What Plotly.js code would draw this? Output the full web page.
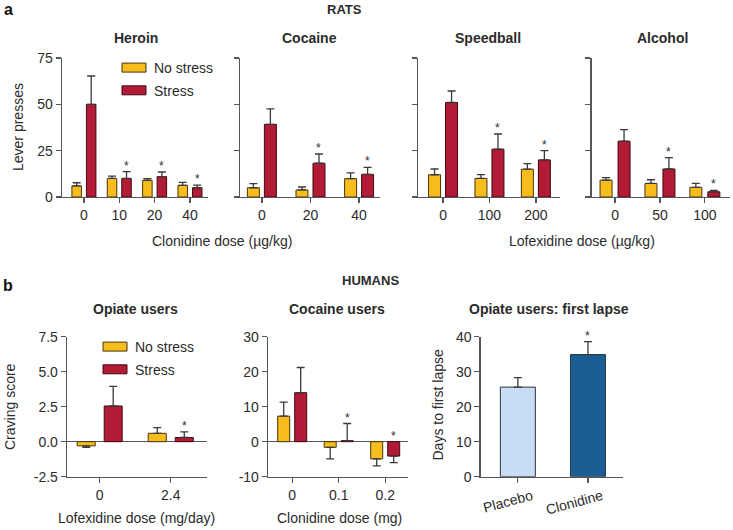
<!DOCTYPE html>
<html><head><meta charset="utf-8">
<script src="https://cdn.plot.ly/plotly-3.0.1.min.js"></script>
<style>html,body{margin:0;padding:0;background:#fff}#chart{width:733px;height:530px}</style>
</head><body><div id="chart"></div>
<script>
// ================= DATA =================
// a) RATS — lever presses
const heroinDose = ['0', '10', '20', '40'];
const heroinNoStress = [6, 10, 9, 6.3];
const heroinNoStressErr = [1.7, 1.3, 0.9, 1.6];
const heroinStress = [50, 10, 11, 5];
const heroinStressErr = [15.3, 3.7, 2.5, 1.4];
const heroinSig = [0, 1, 1, 1];

const cocaineDose = ['0', '20', '40'];
const cocaineNoStress = [5, 3.8, 9.9];
const cocaineNoStressErr = [2.2, 1.6, 3.1];
const cocaineStress = [39.2, 18.2, 12.2];
const cocaineStressErr = [8.3, 5, 3.8];
const cocaineSig = [0, 1, 1];

const speedballDose = ['0', '100', '200'];
const speedballNoStress = [12, 10, 15];
const speedballNoStressErr = [3.1, 2.1, 3];
const speedballStress = [51, 25.8, 20];
const speedballStressErr = [6.2, 8.2, 5];
const speedballSig = [0, 1, 1];

const alcoholDose = ['0', '50', '100'];
const alcoholNoStress = [9.1, 7.3, 5.2];
const alcoholNoStressErr = [1.4, 2, 2.1];
const alcoholStress = [30.1, 15.1, 2.8];
const alcoholStressErr = [6.3, 6.1, 0.8];
const alcoholSig = [0, 1, 1];

// b) HUMANS
const opiateDose = ['0', '2.4'];
const opiateNoStress = [-0.3, 0.6];
const opiateNoStressErr = [0.1, 0.4];
const opiateStress = [2.55, 0.3];
const opiateStressErr = [1.4, 0.4];
const opiateSig = [0, 1];
const opiateTickVals = [-2.5, 0, 2.5, 5, 7.5];
const opiateTickText = ['-2.5', '0.0', '2.5', '5.0', '7.5'];

const cocUsersDose = ['0', '0.1', '0.2'];
const cocUsersNoStress = [7.3, -1.6, -4.9];
const cocUsersNoStressErr = [4, 3.3, 2];
const cocUsersStress = [14, 0.3, -4.1];
const cocUsersStressErr = [7.2, 4.9, 1.9];
const cocUsersSig = [0, 1, 1];
const cocUsersTickVals = [-10, 0, 10, 20, 30];
const cocUsersTickText = ['-10', '0', '10', '20', '30'];

const lapseGroups = ['Placebo', 'Clonidine'];
const lapseDays = [25.6, 34.9];
const lapseErr = [2.7, 3.7];
const lapseSig = [0, 1];

const seriesNames = ['No stress', 'Stress'];

// ================= STYLE / LAYOUT =================
const W = 733, H = 530;
const fx = p => p / W;
const fy = p => 1 - p / H;
const FONT = 'Arial, "Liberation Sans", Helvetica, sans-serif';
const AX = '#555555';
const TXT = '#2b2b2b';
const YELLOW = '#F6BD1C';
const RED = '#B11B36';
const LIGHTBLUE = '#C6DDF3';
const DARKBLUE = '#1B5D95';

const panels = [
  {id: '', cats: heroinDose, ns: heroinNoStress, nsE: heroinNoStressErr, s: heroinStress, sE: heroinStressErr, sig: heroinSig,
   xpx: [62, 208], ypx: [58, 197], xr: [-0.62, 3.51], yr: [0, 75], bw: 9.5, gap: 5, legend: 'legend'},
  {id: '2', cats: cocaineDose, ns: cocaineNoStress, nsE: cocaineNoStressErr, s: cocaineStress, sE: cocaineStressErr, sig: cocaineSig,
   xpx: [240, 380], ypx: [58, 197], xr: [-0.45, 2.43], yr: [0, 75], bw: 12, gap: 5},
  {id: '3', cats: speedballDose, ns: speedballNoStress, nsE: speedballNoStressErr, s: speedballStress, sE: speedballStressErr, sig: speedballSig,
   xpx: [418, 560], ypx: [58, 197], xr: [-0.54, 2.52], yr: [0, 75], bw: 12, gap: 5},
  {id: '4', cats: alcoholDose, ns: alcoholNoStress, nsE: alcoholNoStressErr, s: alcoholStress, sE: alcoholStressErr, sig: alcoholSig,
   xpx: [591.7, 730], ypx: [58, 197], xr: [-0.52, 2.56], yr: [0, 75], bw: 12, gap: 6},
  {id: '5', cats: opiateDose, ns: opiateNoStress, nsE: opiateNoStressErr, s: opiateStress, sE: opiateStressErr, sig: opiateSig,
   xpx: [67, 207], ypx: [336.7, 476.7], xr: [-0.46, 1.51], yr: [-2.5, 7.5], bw: 18, gap: 9, legend: 'legend2',
   tv: opiateTickVals, tt: opiateTickText},
  {id: '6', cats: cocUsersDose, ns: cocUsersNoStress, nsE: cocUsersNoStressErr, s: cocUsersStress, sE: cocUsersStressErr, sig: cocUsersSig,
   xpx: [268, 408], ypx: [336.7, 476.7], xr: [-0.52, 2.49], yr: [-10, 30], bw: 12, gap: 5,
   tv: cocUsersTickVals, tt: cocUsersTickText}
];

const errUp = (v, e) => v.map((d, i) => d >= 0 ? e[i] : 0);
const errDown = (v, e) => v.map((d, i) => d < 0 ? e[i] : 0);

const traces = [];
const annotations = [];
const layout = {
  width: W, height: H,
  margin: {l: 0, r: 0, t: 0, b: 0, pad: 0},
  paper_bgcolor: '#ffffff', plot_bgcolor: 'rgba(0,0,0,0)',
  font: {family: FONT, color: TXT, size: 14},
  barmode: 'overlay',
  showlegend: true,
  hovermode: false
};

function errStyle(v, e) {
  return {type: 'data', symmetric: false, array: errUp(v, e), arrayminus: errDown(v, e),
          color: '#3a3a3a', thickness: 1.3, width: 4};
}

panels.forEach(p => {
  const xa = 'x' + p.id, ya = 'y' + p.id;
  const S = (p.xpx[1] - p.xpx[0]) / (p.xr[1] - p.xr[0]); // px per category
  const w = p.bw / S;
  const g = p.gap / S;
  const oNs = -(w + g / 2);
  const oS = g / 2;
  const isB = p.id === '5' || p.id === '6';
  traces.push({
    type: 'bar', name: seriesNames[0], x: p.cats, y: p.ns, xaxis: xa, yaxis: ya,
    offset: oNs, width: w,
    marker: {color: YELLOW, line: {color: '#4a3410', width: 1}},
    error_y: errStyle(p.ns, p.nsE),
    showlegend: !!p.legend, legend: p.legend || 'legend', legendgroup: 'ns' + p.id
  });
  traces.push({
    type: 'bar', name: seriesNames[1], x: p.cats, y: p.s, xaxis: xa, yaxis: ya,
    offset: oS, width: w,
    marker: {color: RED, line: {color: '#3f0a14', width: 1}},
    error_y: errStyle(p.s, p.sE),
    showlegend: !!p.legend, legend: p.legend || 'legend', legendgroup: 's' + p.id
  });
  p.sig.forEach((sg, i) => {
    if (!sg) return;
    const top = Math.max(p.s[i] + errUp(p.s, p.sE)[i], 0);
    annotations.push({xref: xa, yref: ya, x: i + oS + w / 2, y: top, text: '*', showarrow: false,
      yanchor: 'bottom', yshift: -3, font: {size: 12, color: TXT}});
  });
  layout['xaxis' + p.id] = {
    domain: [fx(p.xpx[0]), fx(p.xpx[1])], range: p.xr, type: 'category',
    categoryorder: 'array', categoryarray: p.cats, anchor: ya,
    showline: true, linecolor: AX, linewidth: 1.3, ticks: 'outside', ticklen: 5, tickcolor: AX, tickwidth: 1.3,
    tickfont: {size: 14, color: TXT}, showgrid: false, zeroline: false, fixedrange: true
  };
  const yax = {
    domain: [fy(p.ypx[1]), fy(p.ypx[0])], range: p.yr, anchor: xa,
    showline: true, linecolor: AX, linewidth: 1.3, ticks: 'outside', ticklen: 5, tickcolor: AX, tickwidth: 1.3,
    tickfont: {size: 14, color: TXT}, showgrid: false, fixedrange: true,
    zeroline: isB, zerolinecolor: AX, zerolinewidth: 1.3,
    showticklabels: (p.id === '' || isB)
  };
  if (p.tv) { yax.tickmode = 'array'; yax.tickvals = p.tv; yax.ticktext = p.tt; }
  else { yax.dtick = 25; yax.tick0 = 0; }
  layout['yaxis' + p.id] = yax;
});

// first lapse panel
(function () {
  const xpx = [480.7, 623], ypx = [336.7, 476.7], xr = [-0.53, 1.5];
  const S = (xpx[1] - xpx[0]) / (xr[1] - xr[0]);
  const w = 35 / S;
  traces.push({
    type: 'bar', name: 'Days to first lapse', x: lapseGroups, y: lapseDays, xaxis: 'x7', yaxis: 'y7',
    offset: -w / 2, width: w,
    marker: {color: [LIGHTBLUE, DARKBLUE], line: {color: '#2a3540', width: 1}},
    error_y: errStyle(lapseDays, lapseErr), showlegend: false
  });
  lapseSig.forEach((sg, i) => {
    if (!sg) return;
    annotations.push({xref: 'x7', yref: 'y7', x: i, y: lapseDays[i] + lapseErr[i], text: '*', showarrow: false,
      yanchor: 'bottom', yshift: -3, font: {size: 12, color: TXT}});
  });
  layout.xaxis7 = {
    domain: [fx(xpx[0]), fx(xpx[1])], range: xr, type: 'category', categoryorder: 'array', categoryarray: lapseGroups,
    anchor: 'y7', showline: true, linecolor: AX, linewidth: 1.3, ticks: 'outside', ticklen: 5, tickcolor: AX, tickwidth: 1.3,
    tickfont: {size: 14, color: TXT}, tickangle: -15, ticklabelshift: 14, showgrid: false, zeroline: false, fixedrange: true
  };
  layout.yaxis7 = {
    domain: [fy(ypx[1]), fy(ypx[0])], range: [0, 40], dtick: 10, anchor: 'x7',
    showline: true, linecolor: AX, linewidth: 1.3, ticks: 'outside', ticklen: 5, tickcolor: AX, tickwidth: 1.3,
    tickfont: {size: 14, color: TXT}, showgrid: false, zeroline: false, fixedrange: true
  };
})();

// legends
layout.legend = {x: fx(114), y: fy(52), xanchor: 'left', yanchor: 'top', bgcolor: 'rgba(0,0,0,0)',
  font: {size: 14, color: TXT}, tracegroupgap: 1.5, borderwidth: 0};
layout.legend2 = {x: fx(95), y: fy(331), xanchor: 'left', yanchor: 'top', bgcolor: 'rgba(0,0,0,0)',
  font: {size: 14, color: TXT}, tracegroupgap: 1.5, borderwidth: 0};

// text labels
function lab(text, cx, cy, opts) {
  annotations.push(Object.assign({xref: 'paper', yref: 'paper', x: fx(cx), y: fy(cy), text: text,
    showarrow: false, xanchor: 'center', yanchor: 'middle', font: {size: 14, color: TXT}}, opts || {}));
}
const B = s => '<b>' + s + '</b>';
lab(B('a'), 8, 10, {font: {size: 16, color: '#111'}});
lab(B('b'), 8, 285, {font: {size: 16, color: '#111'}});
lab(B('RATS'), 344, 10, {font: {size: 13, color: TXT}});
lab(B('HUMANS'), 370, 280, {font: {size: 13, color: TXT}});
lab(B('Heroin'), 136, 38);
lab(B('Cocaine'), 309, 38);
lab(B('Speedball'), 488, 38);
lab(B('Alcohol'), 662, 38);
lab(B('Opiate users'), 135, 308.5);
lab(B('Cocaine users'), 337, 308.5);
lab(B('Opiate users: first lapse'), 549, 308.5);
lab('Clonidine dose (µg/kg)', 222, 241);
lab('Lofexidine dose (µg/kg)', 582, 241);
lab('Lofexidine dose (mg/day)', 136, 518);
lab('Clonidine dose (mg)', 339, 518);
lab('Lever presses', 18, 127, {textangle: -90});
lab('Craving score', 10, 407, {textangle: -90});
lab('Days to first lapse', 437.5, 405, {textangle: -90});

layout.annotations = annotations;

function widenSwatches() {
  document.querySelectorAll('g.legendpoints path').forEach(el => {
    el.setAttribute('d', 'M12,4.5H-12V-4.5H12Z');
  });
}
Plotly.newPlot('chart', traces, layout, {displayModeBar: false, staticPlot: true}).then(gd => {
  widenSwatches();
  setTimeout(widenSwatches, 0);
  setTimeout(widenSwatches, 50);
});
</script>
</body></html>
